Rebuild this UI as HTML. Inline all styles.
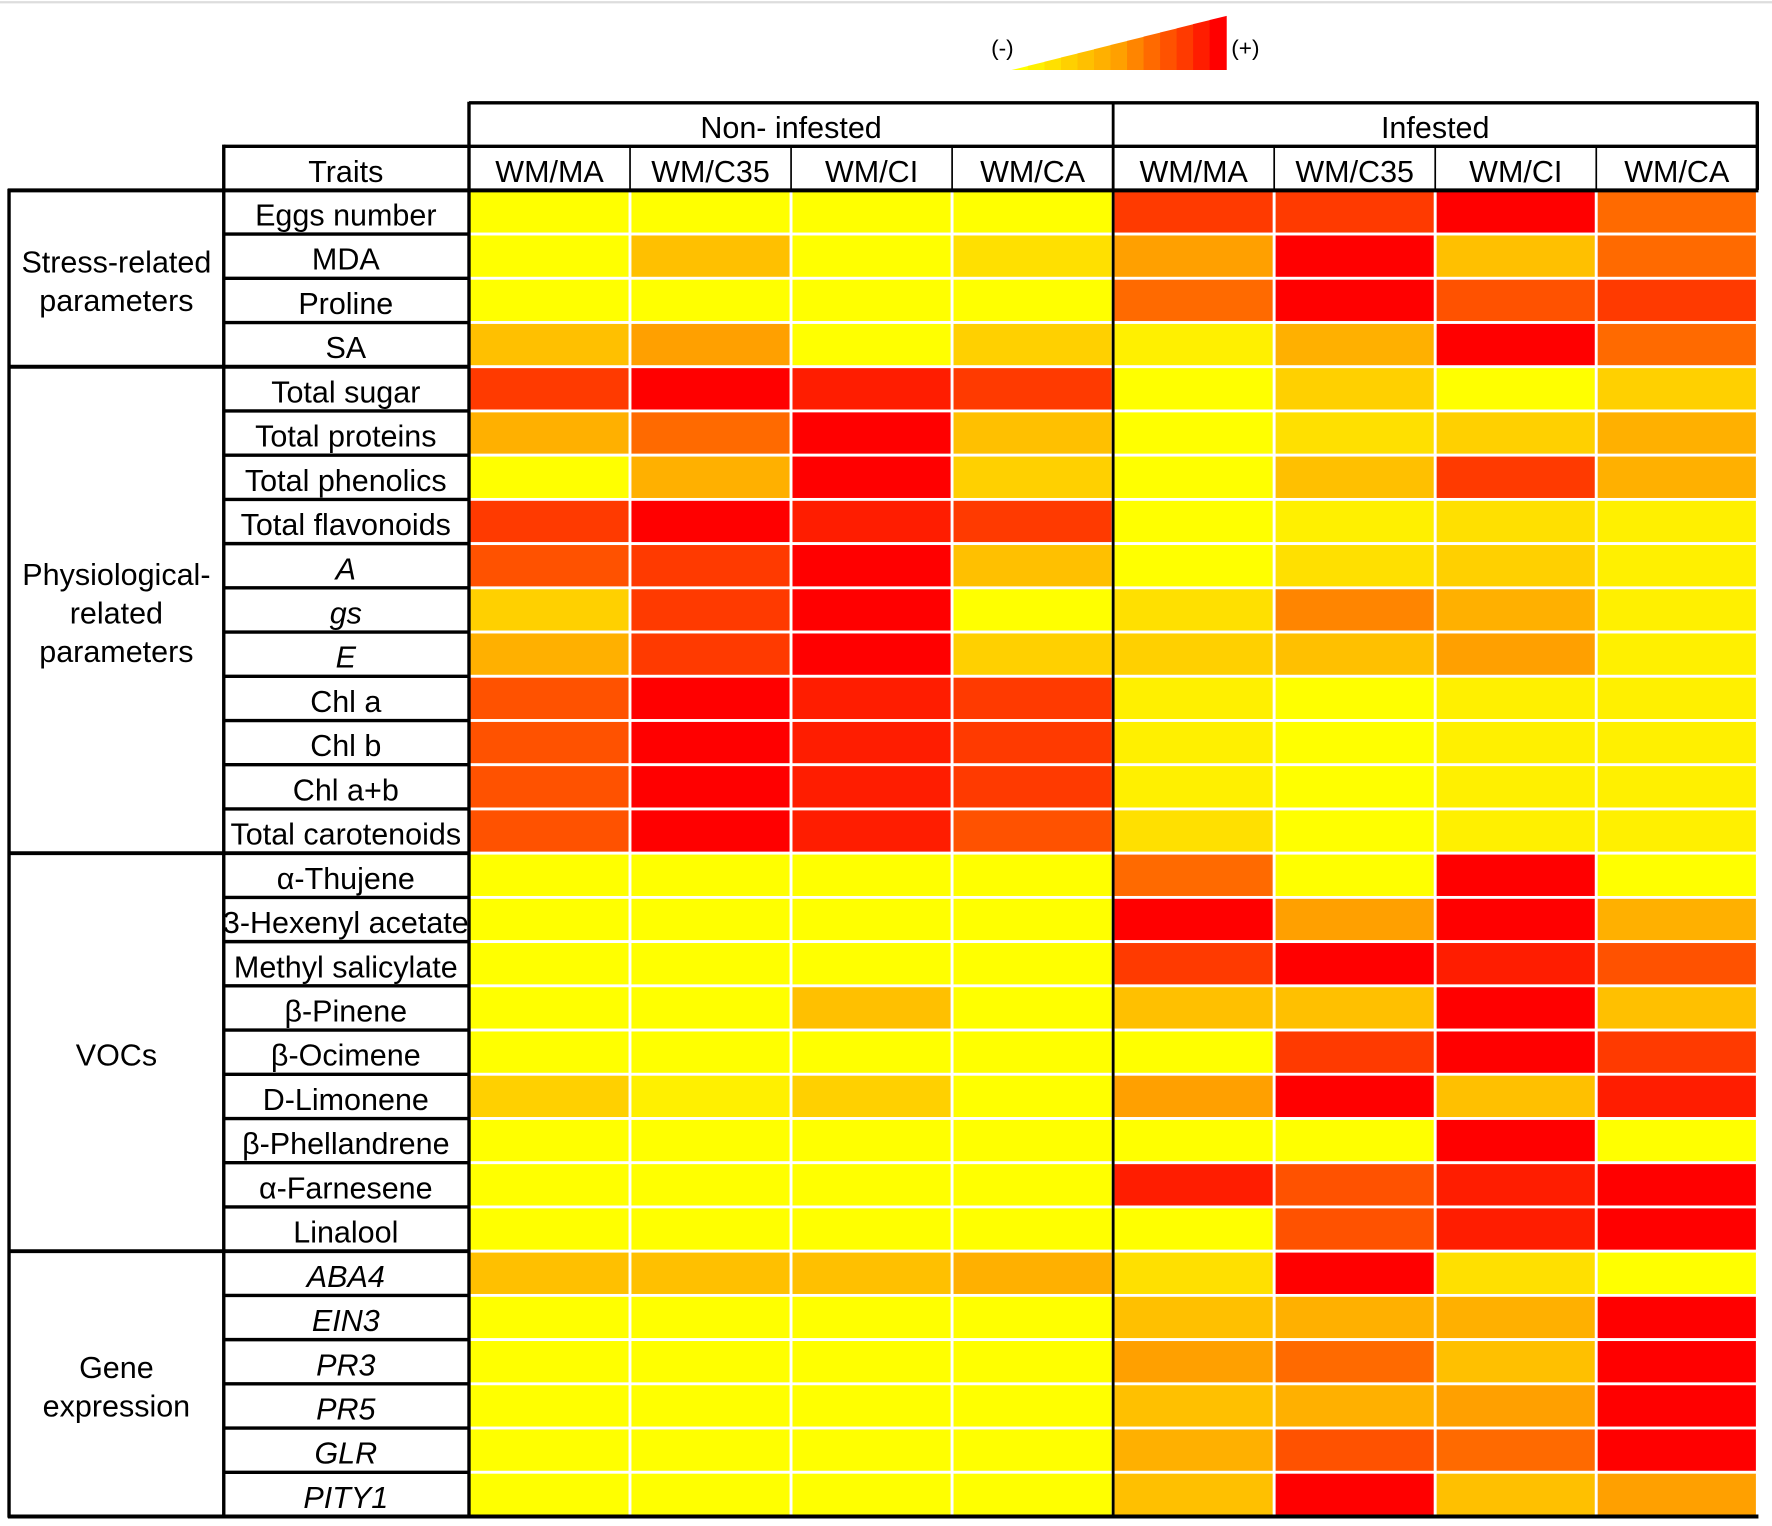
<!DOCTYPE html>
<html><head><meta charset="utf-8"><style>
html,body{margin:0;padding:0;background:#fff;width:1772px;height:1526px;overflow:hidden}
svg{display:block}
text{font-family:"Liberation Sans",sans-serif;fill:#000}
</style></head><body>
<svg id="chart" width="1772" height="1526" viewBox="0 0 1568 1350.4" preserveAspectRatio="none" xmlns="http://www.w3.org/2000/svg">
<defs><clipPath id="tclip"><rect x="198" y="0" width="217" height="1400"/></clipPath></defs>
</svg>
<script>
const groups=["Non- infested","Infested"];
const columns=["WM/MA","WM/C35","WM/CI","WM/CA","WM/MA","WM/C35","WM/CI","WM/CA"];
const traits=["Eggs number","MDA","Proline","SA","Total sugar","Total proteins","Total phenolics","Total flavonoids","A","gs","E","Chl a","Chl b","Chl a+b","Total carotenoids","α-Thujene","3-Hexenyl acetate","Methyl salicylate","β-Pinene","β-Ocimene","D-Limonene","β-Phellandrene","α-Farnesene","Linalool","ABA4","EIN3","PR3","PR5","GLR","PITY1"];
const italicTraits=["A","gs","E","ABA4","EIN3","PR3","PR5","GLR","PITY1"];
const categoryNames=["Stress-related\nparameters","Physiological-\nrelated\nparameters","VOCs","Gene\nexpression"];
const categorySizes=[4,11,9,6];
const values=[
[0,0,0,0,5,5,6,4],
[0,2,0,1,3,6,2,4],
[0,0,0,0,4,6,4.5,5],
[2,3,0,1.5,0.5,2.5,6,4],
[5,6,5.5,5,0,1.5,0,1.5],
[2.5,4,6,2,0,1,1.5,2.5],
[0,2.5,6,1.5,0,2,5,2.5],
[5,6,5.5,5,0,0.5,1,0.5],
[4.5,5,6,2,0,1,1.5,0.5],
[1.5,5,6,0,1,3.5,2.5,0.5],
[2.5,5,6,1.5,1.5,2,3,0.5],
[4.5,6,5.5,5,0.5,0,0.5,0.5],
[4.5,6,5.5,5,0.5,0,0.5,0.5],
[4.5,6,5.5,5,0.5,0,0.5,0.5],
[4.5,6,5.5,4.5,1,0,0.5,0.5],
[0,0,0,0,4,0,6,0],
[0,0,0,0,6,3,6,2.5],
[0,0,0,0,5,6,5.5,4.5],
[0,0,2,0,2,2,6,2],
[0,0,0,0,0,5,6,5],
[1.5,0.5,1.5,0,3,6,2,5.5],
[0,0,0,0,0,0,6,0],
[0,0,0,0,5.5,4.5,5.5,6],
[0,0,0,0,0,4.5,5.5,6],
[2,2,2,2.5,1,6,1,0],
[0,0,0,0,2,2.5,2.5,6],
[0,0,0,0,3,4,2,6],
[0,0,0,0,2,2.5,3,6],
[0,0,0,0,2.5,4.5,4,6],
[0,0,0,0,2,6,2,3]
];
const legendSteps=[0,0.5,1,1.5,2,2.5,3,3.5,4,4.5,5,5.5,6];

const svg=document.getElementById('chart');
const NS="http://www.w3.org/2000/svg";
function mk(tag,attrs,parent){const e=document.createElementNS(NS,tag);for(const k in attrs)e.setAttribute(k,attrs[k]);(parent||svg).appendChild(e);return e;}
const stops=[[255,255,0],[255,224,0],[255,192,0],[255,160,0],[255,106,0],[255,58,0],[255,0,0]];
function color(v){const i=Math.max(0,Math.min(5,Math.floor(v)));const t=Math.max(0,Math.min(1,v-i));const a=stops[i],b=stops[i+1];return `rgb(${a.map((c,j)=>Math.round(c+(b[j]-c)*t)).join(',')})`;}
const X0=415,COLW=(1555-415)/8,Y0=168,ROWH=(1342-168)/30;
const xCol=i=>X0+i*COLW, yRow=r=>Y0+r*ROWH;
const FS=27, DY=12;

let e=mk('line',{x1:0,y1:2,x2:1568,y2:2,stroke:'#ddd','stroke-width':2});



const lg=mk('g',{});


const lx0=895,lx1=1085,lyb=62,lyt=14;
legendSteps.forEach((s,i)=>{
  const xa=lx0+(lx1-lx0)*i/legendSteps.length, xb=lx0+(lx1-lx0)*(i+1)/legendSteps.length;
  const ya=lyb-(lyb-lyt)*(xa-lx0)/(lx1-lx0), yb=lyb-(lyb-lyt)*(xb-lx0)/(lx1-lx0);
  const p=mk('polygon',{points:`${xa},${lyb} ${xa},${ya} ${xb+0.5},${yb} ${xb+0.5},${lyb}`,fill:color(s)},lg);
  
  
});
e=mk('text',{x:887,y:49,'font-size':20,'text-anchor':'middle'},lg);e.textContent='(-)';


e=mk('text',{x:1102,y:49,'font-size':20,'text-anchor':'middle'},lg);e.textContent='(+)';



const cg=mk('g',{});


values.forEach((row,r)=>row.forEach((v,c)=>{
  const rc=mk('rect',{x:xCol(c),y:yRow(r),width:COLW,height:ROWH,fill:color(v),stroke:'#fff','stroke-width':2.5},cg);
  
  
}));

groups.forEach((g,i)=>{
  const t=mk('text',{x:xCol(i*4)+COLW*2,y:122,'font-size':FS,'text-anchor':'middle'});t.textContent=g;
  
  
});
columns.forEach((c,i)=>{
  const t=mk('text',{x:xCol(i)+COLW/2,y:161,'font-size':FS,'text-anchor':'middle'});t.textContent=c;
  
  
});
e=mk('text',{x:306,y:161,'font-size':FS,'text-anchor':'middle'});e.textContent='Traits';



const tg=mk('g',{'clip-path':'url(#tclip)'});


traits.forEach((t,r)=>{
  const tx=mk('text',{x:306,y:yRow(r)+ROWH/2+DY,'font-size':FS,'text-anchor':'middle','font-style':italicTraits.includes(t)?'italic':'normal'},tg);tx.textContent=t;
  
  
});

let acc=0;
categoryNames.forEach((n,i)=>{
  const lines=n.split('\n');const mid=yRow(acc+categorySizes[i]/2);
  const tx=mk('text',{x:103,'font-size':FS,'text-anchor':'middle'});
  
  
  lines.forEach((l,j)=>{const ts=mk('tspan',{x:103,y:mid+DY+(j-(lines.length-1)/2)*34},tx);ts.textContent=l;});
  acc+=categorySizes[i];
});

function ln(x1,y1,x2,y2,w,name){const l=mk('line',{x1,y1,x2,y2,stroke:'#000','stroke-width':w});}
ln(415,91,1556,91,3,'header-top-border');
ln(198,129.5,1556,129.5,3,'header-mid-border');
ln(7,168.5,1556,168.5,3.5,'header-bottom-border');
ln(415,90,415,1342,3,'traits-right-border');
ln(198,128,198,1342,3,'category-right-border');
ln(8,167,8,1343,3,'left-border');
ln(985,90,985,1342,2.5,'group-divider');
ln(1555,90,1555,168,3,'header-right-border');
for(let i=1;i<8;i++){if(i!==4)ln(xCol(i),129,xCol(i),168,1.5,'column-divider');}
for(let r=1;r<30;r++)ln(198,yRow(r),415,yRow(r),3,'trait-row-divider');
acc=0;categorySizes.slice(0,3).forEach(s=>{acc+=s;ln(7,yRow(acc),415,yRow(acc),3.5,'category-divider');});
ln(7,1342,1556,1342,3.5,'bottom-border');
</script>
</body></html>
